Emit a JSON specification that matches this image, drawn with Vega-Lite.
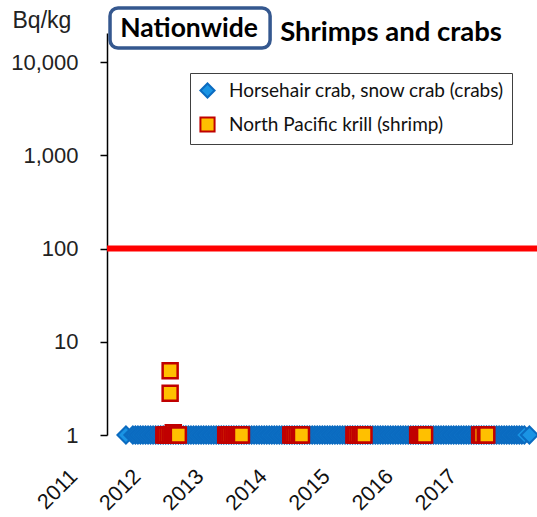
{
  "$schema": "https://vega.github.io/schema/vega-lite/v6.json",
  "autosize": {"type": "none"},
  "padding": {"left": 95, "top": 33, "right": 0, "bottom": 82},
  "width": 442,
  "height": 402,
  "background": "white",
  "config": {
    "view": {"stroke": null},
    "legend": {
      "orient": "none",
      "legendX": 95,
      "legendY": 40,
      "strokeColor": "#404040",
      "strokeWidth": 1,
      "fillColor": "white",
      "padding": 8,
      "rowPadding": 11,
      "labelFont": "Lato",
      "labelFontSize": 19,
      "labelColor": "#111",
      "labelOffset": 12,
      "labelLimit": 400,
      "symbolSize": 200,
      "symbolStrokeWidth": 2,
      "title": null
    }
  },
  "datasets": {
    "crabs": [
      {"year": 2011.49, "bq": 1}, {"year": 2011.60, "bq": 1},
      {"year": 2011.64, "bq": 1}, {"year": 2011.68, "bq": 1}, {"year": 2011.72, "bq": 1}, {"year": 2011.76, "bq": 1}, {"year": 2011.80, "bq": 1}, {"year": 2011.84, "bq": 1}, {"year": 2011.88, "bq": 1}, {"year": 2011.92, "bq": 1}, {"year": 2011.96, "bq": 1},
      {"year": 2012.00, "bq": 1}, {"year": 2012.04, "bq": 1}, {"year": 2012.08, "bq": 1}, {"year": 2012.12, "bq": 1}, {"year": 2012.16, "bq": 1}, {"year": 2012.20, "bq": 1}, {"year": 2012.24, "bq": 1}, {"year": 2012.28, "bq": 1}, {"year": 2012.32, "bq": 1}, {"year": 2012.36, "bq": 1}, {"year": 2012.40, "bq": 1}, {"year": 2012.44, "bq": 1}, {"year": 2012.48, "bq": 1}, {"year": 2012.52, "bq": 1}, {"year": 2012.56, "bq": 1}, {"year": 2012.60, "bq": 1}, {"year": 2012.64, "bq": 1}, {"year": 2012.68, "bq": 1}, {"year": 2012.72, "bq": 1}, {"year": 2012.76, "bq": 1}, {"year": 2012.80, "bq": 1}, {"year": 2012.84, "bq": 1}, {"year": 2012.88, "bq": 1}, {"year": 2012.92, "bq": 1}, {"year": 2012.96, "bq": 1},
      {"year": 2013.00, "bq": 1}, {"year": 2013.04, "bq": 1}, {"year": 2013.08, "bq": 1}, {"year": 2013.12, "bq": 1}, {"year": 2013.16, "bq": 1}, {"year": 2013.20, "bq": 1}, {"year": 2013.24, "bq": 1}, {"year": 2013.28, "bq": 1}, {"year": 2013.32, "bq": 1}, {"year": 2013.36, "bq": 1}, {"year": 2013.40, "bq": 1}, {"year": 2013.44, "bq": 1}, {"year": 2013.48, "bq": 1}, {"year": 2013.52, "bq": 1}, {"year": 2013.56, "bq": 1}, {"year": 2013.60, "bq": 1}, {"year": 2013.64, "bq": 1}, {"year": 2013.68, "bq": 1}, {"year": 2013.72, "bq": 1}, {"year": 2013.76, "bq": 1}, {"year": 2013.80, "bq": 1}, {"year": 2013.84, "bq": 1}, {"year": 2013.88, "bq": 1}, {"year": 2013.92, "bq": 1}, {"year": 2013.96, "bq": 1},
      {"year": 2014.00, "bq": 1}, {"year": 2014.04, "bq": 1}, {"year": 2014.08, "bq": 1}, {"year": 2014.12, "bq": 1}, {"year": 2014.16, "bq": 1}, {"year": 2014.20, "bq": 1}, {"year": 2014.24, "bq": 1}, {"year": 2014.28, "bq": 1}, {"year": 2014.32, "bq": 1}, {"year": 2014.36, "bq": 1}, {"year": 2014.40, "bq": 1}, {"year": 2014.44, "bq": 1}, {"year": 2014.48, "bq": 1}, {"year": 2014.52, "bq": 1}, {"year": 2014.56, "bq": 1}, {"year": 2014.60, "bq": 1}, {"year": 2014.64, "bq": 1}, {"year": 2014.68, "bq": 1}, {"year": 2014.72, "bq": 1}, {"year": 2014.76, "bq": 1}, {"year": 2014.80, "bq": 1}, {"year": 2014.84, "bq": 1}, {"year": 2014.88, "bq": 1}, {"year": 2014.92, "bq": 1}, {"year": 2014.96, "bq": 1},
      {"year": 2015.00, "bq": 1}, {"year": 2015.04, "bq": 1}, {"year": 2015.08, "bq": 1}, {"year": 2015.12, "bq": 1}, {"year": 2015.16, "bq": 1}, {"year": 2015.20, "bq": 1}, {"year": 2015.24, "bq": 1}, {"year": 2015.28, "bq": 1}, {"year": 2015.32, "bq": 1}, {"year": 2015.36, "bq": 1}, {"year": 2015.40, "bq": 1}, {"year": 2015.44, "bq": 1}, {"year": 2015.48, "bq": 1}, {"year": 2015.52, "bq": 1}, {"year": 2015.56, "bq": 1}, {"year": 2015.60, "bq": 1}, {"year": 2015.64, "bq": 1}, {"year": 2015.68, "bq": 1}, {"year": 2015.72, "bq": 1}, {"year": 2015.76, "bq": 1}, {"year": 2015.80, "bq": 1}, {"year": 2015.84, "bq": 1}, {"year": 2015.88, "bq": 1}, {"year": 2015.92, "bq": 1}, {"year": 2015.96, "bq": 1},
      {"year": 2016.00, "bq": 1}, {"year": 2016.04, "bq": 1}, {"year": 2016.08, "bq": 1}, {"year": 2016.12, "bq": 1}, {"year": 2016.16, "bq": 1}, {"year": 2016.20, "bq": 1}, {"year": 2016.24, "bq": 1}, {"year": 2016.28, "bq": 1}, {"year": 2016.32, "bq": 1}, {"year": 2016.36, "bq": 1}, {"year": 2016.40, "bq": 1}, {"year": 2016.44, "bq": 1}, {"year": 2016.48, "bq": 1}, {"year": 2016.52, "bq": 1}, {"year": 2016.56, "bq": 1}, {"year": 2016.60, "bq": 1}, {"year": 2016.64, "bq": 1}, {"year": 2016.68, "bq": 1}, {"year": 2016.72, "bq": 1}, {"year": 2016.76, "bq": 1}, {"year": 2016.80, "bq": 1}, {"year": 2016.84, "bq": 1}, {"year": 2016.88, "bq": 1}, {"year": 2016.92, "bq": 1}, {"year": 2016.96, "bq": 1},
      {"year": 2017.00, "bq": 1}, {"year": 2017.04, "bq": 1}, {"year": 2017.08, "bq": 1}, {"year": 2017.12, "bq": 1}, {"year": 2017.16, "bq": 1}, {"year": 2017.20, "bq": 1}, {"year": 2017.24, "bq": 1}, {"year": 2017.28, "bq": 1}, {"year": 2017.32, "bq": 1}, {"year": 2017.36, "bq": 1}, {"year": 2017.40, "bq": 1}, {"year": 2017.44, "bq": 1}, {"year": 2017.48, "bq": 1}, {"year": 2017.52, "bq": 1}, {"year": 2017.56, "bq": 1}, {"year": 2017.60, "bq": 1}, {"year": 2017.64, "bq": 1}, {"year": 2017.68, "bq": 1}, {"year": 2017.72, "bq": 1}, {"year": 2017.76, "bq": 1}, {"year": 2017.80, "bq": 1},
      {"year": 2017.88, "bq": 1}
    ],
    "krill": [
      {"year": 2012.09, "bq": 1}, {"year": 2012.12, "bq": 1}, {"year": 2012.155, "bq": 1}, {"year": 2012.19, "bq": 1},
      {"year": 2012.19, "bq": 4.9}, {"year": 2012.19, "bq": 2.8},
      {"year": 2012.22, "bq": 1}, {"year": 2012.24, "bq": 1.06}, {"year": 2012.255, "bq": 1}, {"year": 2012.29, "bq": 1}, {"year": 2012.32, "bq": 1},
      {"year": 2013.07, "bq": 1}, {"year": 2013.10, "bq": 1}, {"year": 2013.135, "bq": 1}, {"year": 2013.17, "bq": 1}, {"year": 2013.20, "bq": 1}, {"year": 2013.23, "bq": 1}, {"year": 2013.26, "bq": 1}, {"year": 2013.29, "bq": 1}, {"year": 2013.32, "bq": 1},
      {"year": 2014.10, "bq": 1}, {"year": 2014.13, "bq": 1}, {"year": 2014.165, "bq": 1}, {"year": 2014.20, "bq": 1}, {"year": 2014.235, "bq": 1}, {"year": 2014.27, "bq": 1},
      {"year": 2015.10, "bq": 1}, {"year": 2015.13, "bq": 1}, {"year": 2015.165, "bq": 1}, {"year": 2015.20, "bq": 1}, {"year": 2015.23, "bq": 1}, {"year": 2015.26, "bq": 1},
      {"year": 2016.11, "bq": 1}, {"year": 2016.14, "bq": 1}, {"year": 2016.17, "bq": 1}, {"year": 2016.195, "bq": 1}, {"year": 2016.22, "bq": 1},
      {"year": 2017.092, "bq": 1}, {"year": 2017.124, "bq": 1}, {"year": 2017.18, "bq": 1}, {"year": 2017.205, "bq": 1}
    ],
    "limit": [
      {"year": 2011.19, "yearEnd": 2018.0, "bq": 100}
    ]
  },
  "layer": [
    {
      "data": {"name": "limit"},
      "mark": {"type": "rule", "color": "#FF0000", "strokeWidth": 6},
      "encoding": {
        "x": {
          "field": "year",
          "type": "quantitative",
          "scale": {"domain": [2011, 2018], "nice": false, "zero": false},
          "axis": {
            "title": null,
            "values": [2011, 2012, 2013, 2014, 2015, 2016, 2017],
            "format": "d",
            "labelAngle": -45,
            "labelAlign": "right",
            "labelBaseline": "middle",
            "labelPadding": 38,
            "labelOffset": -21,
            "labelFont": "Liberation Sans",
            "labelFontSize": 21.5,
            "labelColor": "#111",
            "labelOverlap": false,
            "labelFlush": false,
            "ticks": false,
            "tickSize": 0,
            "domain": false,
            "grid": false
          }
        },
        "x2": {"field": "yearEnd"},
        "y": {
          "field": "bq",
          "type": "quantitative",
          "scale": {"type": "log", "domain": [1, 20470], "nice": false},
          "axis": {
            "title": "Bq/kg",
            "titleAngle": 0,
            "titleAlign": "left",
            "titleBaseline": "alphabetic",
            "titleX": -95,
            "titleY": -6,
            "titleFont": "Liberation Sans",
            "titleFontSize": 23,
            "titleFontWeight": "normal",
            "titleColor": "#222",
            "values": [1, 10, 100, 1000, 10000],
            "format": ",",
            "offset": -12,
            "labelFont": "Liberation Sans",
            "labelFontSize": 22,
            "labelColor": "#222",
            "labelPadding": 22,
            "tickSize": 7,
            "tickWidth": 1.5,
            "tickColor": "black",
            "domainColor": "black",
            "domainWidth": 1.5,
            "grid": false,
            "labelOverlap": false,
            "labelFlush": false
          }
        }
      }
    },
    {
      "data": {"name": "crabs"},
      "mark": {"type": "point", "filled": true, "opacity": 1, "size": 290, "strokeWidth": 2},
      "encoding": {
        "x": {"field": "year", "type": "quantitative"},
        "y": {"field": "bq", "type": "quantitative"},
        "fill": {
          "datum": "Horsehair crab, snow crab (crabs)",
          "type": "nominal",
          "scale": {"domain": ["Horsehair crab, snow crab (crabs)", "North Pacific krill (shrimp)"], "range": ["#1A94E4", "#FFC000"]}
        },
        "stroke": {
          "datum": "Horsehair crab, snow crab (crabs)",
          "type": "nominal",
          "scale": {"domain": ["Horsehair crab, snow crab (crabs)", "North Pacific krill (shrimp)"], "range": ["#0B6BC0", "#C00000"]}
        },
        "shape": {
          "datum": "Horsehair crab, snow crab (crabs)",
          "type": "nominal",
          "scale": {"domain": ["Horsehair crab, snow crab (crabs)", "North Pacific krill (shrimp)"], "range": ["diamond", "square"]}
        }
      }
    },
    {
      "data": {"name": "krill"},
      "mark": {"type": "point", "filled": true, "opacity": 1, "size": 225, "strokeWidth": 2.5},
      "encoding": {
        "x": {"field": "year", "type": "quantitative"},
        "y": {"field": "bq", "type": "quantitative"},
        "fill": {"datum": "North Pacific krill (shrimp)", "type": "nominal"},
        "stroke": {"datum": "North Pacific krill (shrimp)", "type": "nominal"},
        "shape": {"datum": "North Pacific krill (shrimp)", "type": "nominal"}
      }
    },
    {
      "data": {"values": [{}]},
      "mark": {"type": "rect", "fill": "white", "stroke": "#35588F", "strokeWidth": 3.5, "cornerRadius": 8},
      "encoding": {
        "x": {"datum": 2011.238},
        "x2": {"datum": 2013.773},
        "y": {"datum": 37950},
        "y2": {"datum": 14130}
      }
    },
    {
      "data": {"values": [{}]},
      "mark": {"type": "text", "text": "Nationwide", "font": "Lato", "fontWeight": "bold", "fontSize": 26.5, "align": "center", "baseline": "alphabetic", "color": "black"},
      "encoding": {
        "x": {"datum": 2012.49},
        "y": {"datum": 18770}
      }
    },
    {
      "data": {"values": [{}]},
      "mark": {"type": "text", "text": "Shrimps and crabs", "font": "Lato", "fontWeight": "bold", "fontSize": 27.5, "align": "left", "baseline": "alphabetic", "color": "black"},
      "encoding": {
        "x": {"datum": 2013.932},
        "y": {"datum": 17000}
      }
    }
  ]
}
